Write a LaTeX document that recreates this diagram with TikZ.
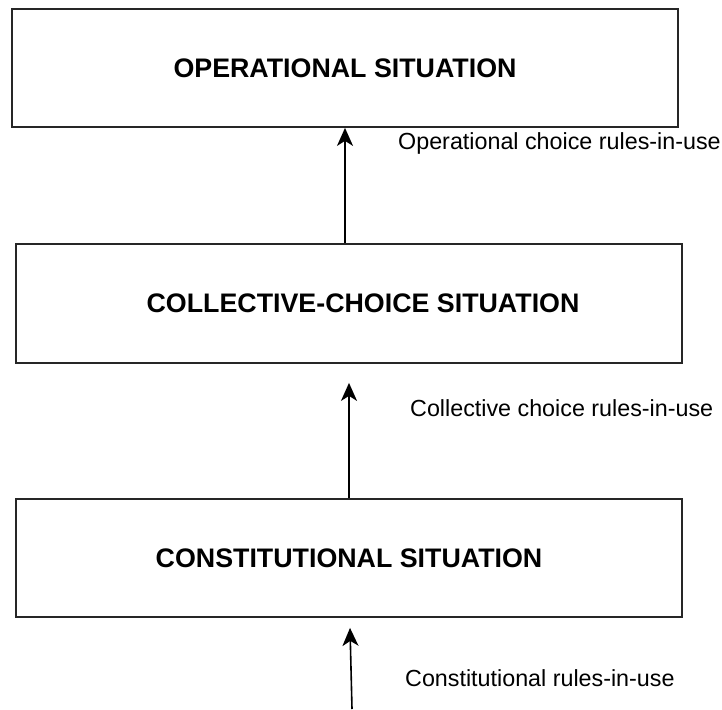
\documentclass[tikz,border=0pt]{standalone}
\usepackage{fontspec}
\setmainfont{Liberation Sans}
\usetikzlibrary{arrows.meta,calc}

\tikzset{
  level/.style={draw=black!85, line width=1.8pt, fill=white, inner sep=0pt,
    font=\bfseries\fontsize{26.8}{30}\selectfont, anchor=center},
  rulelabel/.style={anchor=west, inner sep=0pt,
    font=\fontsize{23.3}{27}\selectfont},
  flow/.style={line width=1.6pt, draw=black,
    -{Stealth[length=18pt,width=16pt,inset=5pt]}}
}

\begin{document}
\begin{tikzpicture}[x=1pt,y=-1pt]
  \useasboundingbox (0,0) rectangle (722,709);

  % the three levels of action situations
  \node[level, minimum width=666pt, minimum height=118pt] (op)   at (345,68)    {OPERATIONAL SITUATION};
  \node[level, minimum width=666pt, minimum height=119pt] (coll) at (349,303.5) {\hspace*{28pt}COLLECTIVE-CHOICE SITUATION};
  \node[level, minimum width=666pt, minimum height=118pt] (cons) at (349,558)   {CONSTITUTIONAL SITUATION};

  % rules passed upward between levels
  \draw[flow] (op.south |- coll.north) -- (op.south);
  \draw[flow] (cons.north) -- ([yshift=-19pt]coll.south);
  \coordinate (below) at (352,709);
  \draw[flow] (below) -- ([xshift=1pt,yshift=-10pt]cons.south);

  % labels of the rule sets
  \node[rulelabel] (oplab)   at (398,143) {Operational choice rules-in-use};
  \node[rulelabel] (colllab) at (410,408) {Collective choice rules-in-use};
  \node[rulelabel] (conslab) at (405,678) {Constitutional rules-in-use};
\end{tikzpicture}
\end{document}
